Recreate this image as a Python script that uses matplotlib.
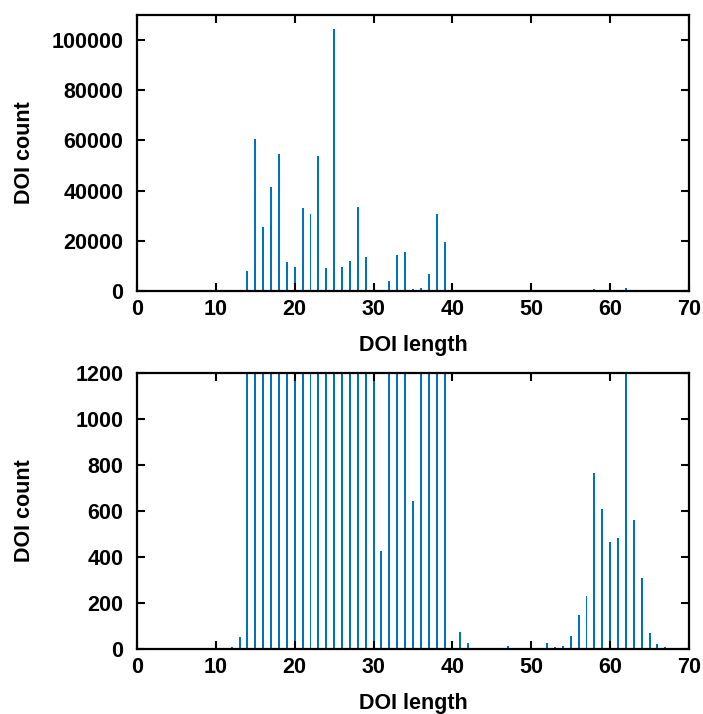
import numpy as np
import matplotlib
matplotlib.use('Agg')
import matplotlib.pyplot as plt

# DOI length histogram (counts)
lengths = list(range(12, 68))
counts = [
    7, 51, 8000, 60400, 25500, 41300, 54600, 11400, 9400, 33200,   # 12-21
    30800, 53800, 9200, 104600, 9600, 12000, 33300, 13500, 1300, 424,  # 22-31
    4000, 14200, 15700, 644, 1300, 6800, 30500, 19600, 0, 75,     # 32-41
    25, 4, 0, 0, 3, 15, 0, 0, 0, 6,                               # 42-51
    25, 10, 13, 55, 148, 229, 766, 608, 464, 483,                 # 52-61
    1400, 563, 308, 68, 23, 9,                                    # 62-67
]

x_ticks = [0, 10, 20, 30, 40, 50, 60, 70]
top_yticks = [0, 20000, 40000, 60000, 80000, 100000]
bottom_yticks = [0, 200, 400, 600, 800, 1000, 1200]

bar_color = '#0072bd'

plt.rcParams['font.family'] = ['Liberation Sans', 'DejaVu Sans']
plt.rcParams['font.weight'] = 'bold'
plt.rcParams['font.size'] = 15.5


def draw_panel(ax, ylim, yticks):
    ax.bar(lengths, counts, width=0.25, color=bar_color, linewidth=0)
    ax.set_xlim(0, 70)
    ax.set_ylim(*ylim)
    ax.set_xticks(x_ticks)
    ax.set_yticks(yticks)
    ax.tick_params(direction='in', top=True, right=True, length=6, width=1.5)
    ax.tick_params(axis='y', pad=10)
    ax.tick_params(axis='x', pad=6)
    for s in ax.spines.values():
        s.set_linewidth(1.6)
    ax.set_xlabel('DOI length', fontweight='bold')
    ax.set_ylabel('DOI count', fontweight='bold')
    # gnuplot-like fixed label positions
    ax.xaxis.set_label_coords(0.5, -0.196)
    ax.yaxis.set_label_coords(-0.203, 0.5)
    ax.xaxis.label.set_va('center')
    ax.yaxis.label.set_va('center')


fig = plt.figure(figsize=(7.03, 7.14), dpi=100)
ax_top = fig.add_axes([0.1949, 0.5924, 0.7852, 0.3866])
ax_bot = fig.add_axes([0.1949, 0.0910, 0.7852, 0.3866])

draw_panel(ax_top, (0, 110000), top_yticks)
draw_panel(ax_bot, (0, 1200), bottom_yticks)

fig.savefig('out.png', dpi=100)
